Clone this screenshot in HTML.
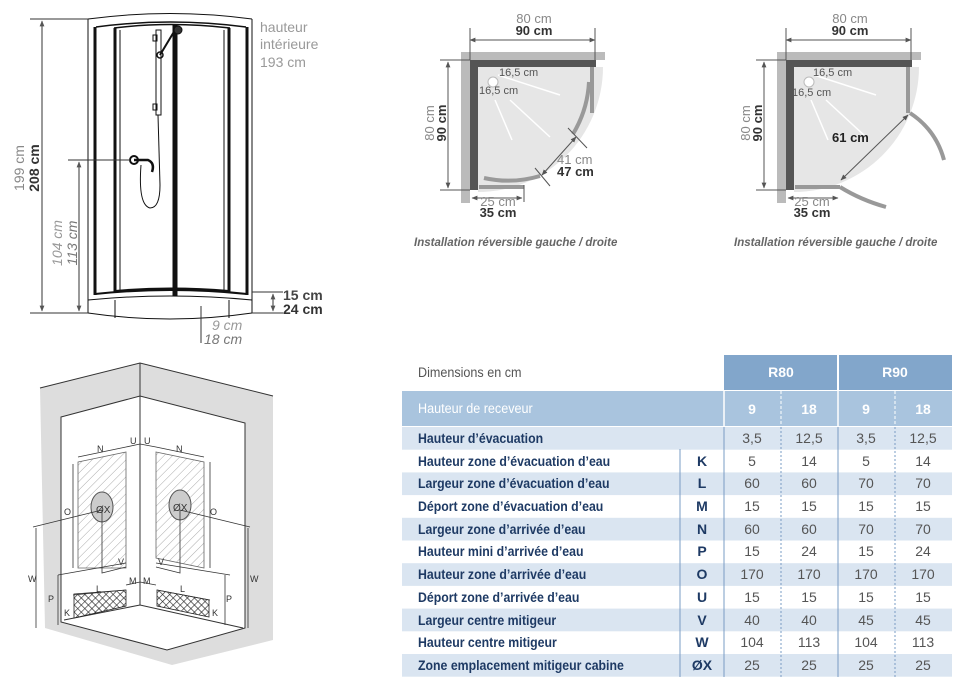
<!DOCTYPE html>
<html><head><meta charset="utf-8"><style>
html,body{margin:0;padding:0;background:#fff;}
svg{display:block;}
text{font-family:"Liberation Sans",sans-serif;}
</style></head><body>
<svg width="964" height="687" viewBox="0 0 964 687" xmlns="http://www.w3.org/2000/svg">
<defs>
<marker id="ar" viewBox="0 0 10 10" refX="9" refY="5" markerWidth="6" markerHeight="6" orient="auto-start-reverse"><path d="M0,1 L10,5 L0,9 z" fill="#555"/></marker>
<pattern id="hatch" width="6" height="6" patternUnits="userSpaceOnUse" patternTransform="rotate(45)"><line x1="0" y1="0" x2="0" y2="6" stroke="#aaa" stroke-width="1"/></pattern>
<pattern id="cross" width="5" height="5" patternUnits="userSpaceOnUse" patternTransform="rotate(45)"><rect width="5" height="5" fill="#fff"/><path d="M0,0 L0,5 M0,0 L5,0" stroke="#222" stroke-width="1.2"/></pattern>
</defs>

<!-- ===== Shower front view ===== -->
<g stroke="#111" fill="none">
  <path d="M88,19 Q170,8 252,19" stroke-width="1"/>
  <path d="M96,27 Q170,17 246,27" stroke-width="1.5"/>
  <path d="M114,28 Q170,21 230,28" stroke-width="1.5"/>
  <line x1="88" y1="19" x2="88" y2="313" stroke-width="1"/>
  <line x1="95" y1="27" x2="95" y2="295" stroke-width="3"/>
  <line x1="115" y1="28" x2="115" y2="292" stroke-width="3"/>
  <line x1="229" y1="28" x2="229" y2="292" stroke-width="3"/>
  <line x1="247" y1="27" x2="247" y2="295" stroke-width="3"/>
  <line x1="252" y1="19" x2="252" y2="313" stroke-width="1"/>
  <line x1="175" y1="24" x2="175" y2="296" stroke-width="5"/>
  <line x1="120" y1="30" x2="120" y2="290" stroke-width="1"/>
  <line x1="224" y1="30" x2="224" y2="290" stroke-width="1"/>
  <path d="M95,294 Q170,286 247,294" stroke-width="2"/>
  <path d="M115,291 Q170,286 229,291" stroke-width="2"/>
  <path d="M88,300 Q170,292 252,300" stroke-width="1"/>
  <path d="M88,313 Q170,325 252,313" stroke-width="1"/>
  <line x1="115" y1="300" x2="115" y2="318"/><line x1="229" y1="300" x2="229" y2="318"/>
  <rect x="156" y="30" width="5" height="85" stroke-width="1"/>
  <line x1="158" y1="115" x2="160" y2="185" stroke-width="1"/>
  <rect x="153" y="35" width="4" height="6" stroke-width="1"/>
  <rect x="153" y="104" width="4" height="6" stroke-width="1"/>
  <circle cx="160" cy="55" r="3" stroke-width="1.5"/>
  <line x1="160" y1="55" x2="175" y2="30" stroke-width="2"/>
  <circle cx="178" cy="30" r="4" fill="#333"/>
  <circle cx="134" cy="160" r="4" stroke-width="2"/>
  <path d="M134,160 L148,160 Q155,163 152,172" stroke-width="2.5"/>
  <path d="M141,165 Q138,205 150,208 Q160,208 160,185" stroke-width="1"/>
</g>
<g stroke="#333" stroke-width="1">
  <line x1="30" y1="19" x2="88" y2="19"/>
  <line x1="30" y1="313" x2="88" y2="313"/>
  <line x1="42" y1="21" x2="42" y2="311" marker-start="url(#ar)" marker-end="url(#ar)"/>
  <line x1="68" y1="160" x2="130" y2="160"/>
  <line x1="79" y1="162" x2="79" y2="311" marker-start="url(#ar)" marker-end="url(#ar)"/>
  <line x1="252" y1="292" x2="283" y2="292"/>
  <line x1="252" y1="313" x2="283" y2="313"/>
  <line x1="273" y1="294" x2="273" y2="311" marker-start="url(#ar)" marker-end="url(#ar)"/>
  <line x1="201" y1="306" x2="201" y2="343" />
</g>
<text transform="translate(24,168) rotate(-90)" text-anchor="middle" font-size="14" fill="#888">199 cm</text>
<text transform="translate(39,168) rotate(-90)" text-anchor="middle" font-size="14" font-weight="bold" fill="#333">208 cm</text>
<text transform="translate(62,243) rotate(-90)" text-anchor="middle" font-size="14" font-style="italic" fill="#999">104 cm</text>
<text transform="translate(77,243) rotate(-90)" text-anchor="middle" font-size="14" font-style="italic" fill="#777">113 cm</text>
<text x="260" y="32" font-size="14" fill="#999">hauteur</text>
<text x="260" y="49" font-size="14" fill="#999">intérieure</text>
<text x="260" y="67" font-size="14" fill="#999">193 cm</text>
<text x="283" y="300" font-size="14" font-weight="bold" fill="#444">15 cm</text>
<text x="283" y="314" font-size="14" font-weight="bold" fill="#333">24 cm</text>
<text x="212" y="330" font-size="14" font-style="italic" fill="#999">9 cm</text>
<text x="204" y="344" font-size="14" font-style="italic" fill="#777">18 cm</text>

<!-- ===== Plan 1 ===== -->
<g>
  <path d="M478,67 L603,67 A125,125 0 0 1 478,192 Z" fill="#e6e6e6"/>
  <rect x="461" y="52" width="144" height="8" fill="#bbb"/>
  <rect x="461" y="52" width="9" height="151" fill="#bbb"/>
  <rect x="470" y="60" width="126" height="7" fill="#555"/>
  <rect x="470" y="60" width="8" height="130" fill="#555"/>
  <rect x="590" y="67" width="4" height="46" fill="#999"/>
  <rect x="479" y="185" width="45" height="4" fill="#999"/>
  <path d="M589,82 A112,112 0 0 1 573,134" stroke="#999" stroke-width="4" fill="none"/>
  <path d="M540,176 A112,112 0 0 1 484,178" stroke="#999" stroke-width="4" fill="none"/>
  <g stroke="#fff" stroke-width="1.5">
    <line x1="498" y1="75" x2="560" y2="95"/><line x1="495" y1="100" x2="512" y2="140"/><line x1="510" y1="100" x2="550" y2="137"/>
  </g>
  <g stroke="#555" stroke-width="1">
    <line x1="470" y1="40" x2="595" y2="40" marker-start="url(#ar)" marker-end="url(#ar)"/>
    <line x1="470" y1="28" x2="470" y2="60"/><line x1="595" y1="28" x2="595" y2="60"/>
    <line x1="448" y1="62" x2="448" y2="188" marker-start="url(#ar)" marker-end="url(#ar)"/>
    <line x1="440" y1="60" x2="470" y2="60"/><line x1="440" y1="190" x2="470" y2="190"/>
    <line x1="472" y1="198" x2="522" y2="198" marker-start="url(#ar)" marker-end="url(#ar)"/>
    <line x1="524" y1="185" x2="524" y2="202"/>
    <line x1="542" y1="175" x2="576" y2="137" marker-start="url(#ar)" marker-end="url(#ar)"/>
    <line x1="535" y1="168" x2="550" y2="186"/><line x1="568" y1="128" x2="587" y2="148"/>
    <circle cx="493" cy="82" r="5" fill="#fff" stroke="#bbb"/>
  </g>
  <text x="534" y="23" text-anchor="middle" font-size="13" fill="#888">80 cm</text>
  <text x="534" y="35" text-anchor="middle" font-size="13" font-weight="bold" fill="#333">90 cm</text>
  <text transform="translate(434,123) rotate(-90)" text-anchor="middle" font-size="13" fill="#888">80 cm</text>
  <text transform="translate(446,123) rotate(-90)" text-anchor="middle" font-size="13" font-weight="bold" fill="#333">90 cm</text>
  <text x="499" y="76" font-size="11" fill="#555">16,5 cm</text>
  <text x="479" y="94" font-size="11" fill="#555">16,5 cm</text>
  <text x="557" y="164" font-size="13" fill="#888">41 cm</text>
  <text x="557" y="176" font-size="13" font-weight="bold" fill="#333">47 cm</text>
  <text x="498" y="206" text-anchor="middle" font-size="13" fill="#888">25 cm</text>
  <text x="498" y="217" text-anchor="middle" font-size="13" font-weight="bold" fill="#333">35 cm</text>
  <text transform="translate(414,246) scale(0.96,1)" font-size="12" font-weight="bold" font-style="italic" fill="#666">Installation réversible gauche / droite</text>
</g>

<!-- ===== Plan 2 ===== -->
<g transform="translate(316,0)">
  <path d="M478,67 L603,67 A125,125 0 0 1 478,192 Z" fill="#e6e6e6"/>
  <rect x="461" y="52" width="144" height="8" fill="#bbb"/>
  <rect x="461" y="52" width="9" height="151" fill="#bbb"/>
  <rect x="470" y="60" width="126" height="7" fill="#555"/>
  <rect x="470" y="60" width="8" height="130" fill="#555"/>
  <rect x="590" y="67" width="4" height="46" fill="#999"/>
  <rect x="479" y="185" width="45" height="4" fill="#999"/>
  <path d="M594,113 Q620,130 628,160" stroke="#999" stroke-width="4" fill="none"/>
  <path d="M524,187 Q545,200 570,207" stroke="#999" stroke-width="4" fill="none"/>
  <g stroke="#fff" stroke-width="1.5">
    <line x1="498" y1="75" x2="560" y2="95"/><line x1="495" y1="100" x2="512" y2="140"/><line x1="510" y1="100" x2="550" y2="137"/>
  </g>
  <g stroke="#555" stroke-width="1">
    <line x1="470" y1="40" x2="595" y2="40" marker-start="url(#ar)" marker-end="url(#ar)"/>
    <line x1="470" y1="28" x2="470" y2="60"/><line x1="595" y1="28" x2="595" y2="60"/>
    <line x1="448" y1="62" x2="448" y2="188" marker-start="url(#ar)" marker-end="url(#ar)"/>
    <line x1="440" y1="60" x2="470" y2="60"/><line x1="440" y1="190" x2="470" y2="190"/>
    <line x1="472" y1="198" x2="522" y2="198" marker-start="url(#ar)" marker-end="url(#ar)"/>
    <line x1="525" y1="180" x2="592" y2="115" marker-start="url(#ar)" marker-end="url(#ar)"/>
    <circle cx="493" cy="82" r="5" fill="#fff" stroke="#bbb"/>
  </g>
  <text x="534" y="23" text-anchor="middle" font-size="13" fill="#888">80 cm</text>
  <text x="534" y="35" text-anchor="middle" font-size="13" font-weight="bold" fill="#333">90 cm</text>
  <text transform="translate(434,123) rotate(-90)" text-anchor="middle" font-size="13" fill="#888">80 cm</text>
  <text transform="translate(446,123) rotate(-90)" text-anchor="middle" font-size="13" font-weight="bold" fill="#333">90 cm</text>
  <text x="497" y="76" font-size="11" fill="#555">16,5 cm</text>
  <text x="476" y="96" font-size="11" fill="#555">16,5 cm</text>
  <text x="516" y="142" font-size="13" font-weight="bold" fill="#222">61 cm</text>
  <text x="496" y="206" text-anchor="middle" font-size="13" fill="#888">25 cm</text>
  <text x="496" y="217" text-anchor="middle" font-size="13" font-weight="bold" fill="#333">35 cm</text>
  <text transform="translate(418,246) scale(0.96,1)" font-size="12" font-weight="bold" font-style="italic" fill="#666">Installation réversible gauche / droite</text>
</g>

<!-- ===== Isometric ===== -->
<g>
  <polygon points="40,388 140,363 273,396 273,640 172,665 45,628" fill="#ddd"/>
  <polygon points="61,417 140,396 245,423 245,628 167,650 61,622" fill="#fff" stroke="#333" stroke-width="1"/>
  <polyline points="40,388 140,363 273,396" fill="none" stroke="#333" stroke-width="1"/>
  <line x1="140" y1="363" x2="140" y2="605" stroke="#333"/>
  <polyline points="64,620 140,605 243,628" fill="none" stroke="#333"/>
  <polygon points="78,462 126,452 126,568 78,568" fill="url(#hatch)" stroke="#666" stroke-width="0.8"/>
  <polygon points="156,452 204,462 204,568 156,558" fill="url(#hatch)" stroke="#666" stroke-width="0.8"/>
  <ellipse cx="102" cy="507" rx="11" ry="15" fill="#ccc" stroke="#555"/>
  <ellipse cx="180" cy="505" rx="11" ry="15" fill="#ccc" stroke="#555"/>
  <polygon points="74,594 126,590 126,606 74,618" fill="url(#cross)" stroke="#222" stroke-width="0.8"/>
  <polygon points="157,590 209,600 209,617 157,606" fill="url(#cross)" stroke="#222" stroke-width="0.8"/>
  <g stroke="#333" stroke-width="0.8" fill="none">
    <line x1="78" y1="457" x2="126" y2="447"/><line x1="156" y1="447" x2="204" y2="457"/>
    <line x1="73" y1="464" x2="73" y2="568"/><line x1="210" y1="462" x2="210" y2="568"/>
    <line x1="33" y1="527" x2="102" y2="510"/><line x1="180" y1="510" x2="250" y2="527"/>
    <line x1="36" y1="528" x2="36" y2="628"/><line x1="248" y1="528" x2="248" y2="628"/>
    <line x1="58" y1="575" x2="126" y2="563"/><line x1="156" y1="563" x2="230" y2="575"/>
    <line x1="58" y1="575" x2="58" y2="625"/><line x1="225" y1="575" x2="225" y2="625"/>
    <polyline points="102,510 102,573 126,567"/><polyline points="180,510 180,573 156,567"/>
    <line x1="73" y1="595" x2="126" y2="590"/><line x1="157" y1="590" x2="210" y2="600"/>
    <line x1="126" y1="447" x2="140" y2="444"/><line x1="140" y1="444" x2="156" y2="447"/>
    <line x1="126" y1="585" x2="140" y2="582"/><line x1="140" y1="582" x2="156" y2="585"/>
  </g>
  <g font-size="9" fill="#333">
    <text x="97" y="452">N</text><text x="176" y="452">N</text>
    <text x="130" y="444">U</text><text x="144" y="444">U</text>
    <text x="64" y="515">O</text><text x="210" y="515">O</text>
    <text x="96" y="513" font-size="10">ØX</text><text x="173" y="511" font-size="10">ØX</text>
    <text x="118" y="565">V</text><text x="158" y="565">V</text>
    <text x="28" y="582">W</text><text x="250" y="582">W</text>
    <text x="48" y="602">P</text><text x="226" y="602">P</text>
    <text x="96" y="592">L</text><text x="180" y="592">L</text>
    <text x="129" y="584">M</text><text x="143" y="584">M</text>
    <text x="64" y="616">K</text><text x="212" y="616">K</text>
  </g>
</g>

<!-- ===== Table ===== -->
<g>
  <rect x="724" y="355" width="113" height="35" fill="#82a6cb"/>
  <rect x="839" y="355" width="113" height="35" fill="#82a6cb"/>
  <rect x="402" y="391" width="550" height="35" fill="#a9c4de"/>
  <line x1="724" y1="391" x2="724" y2="426" stroke="#fff" stroke-width="1.5"/>
  <line x1="838" y1="391" x2="838" y2="426" stroke="#fff" stroke-width="1.5"/>
  <line x1="781" y1="391" x2="781" y2="426" stroke="#fff" stroke-dasharray="3,2"/>
  <line x1="895" y1="391" x2="895" y2="426" stroke="#fff" stroke-dasharray="3,2"/>
  <text transform="translate(418,377) scale(0.9,1)" font-size="14" fill="#555">Dimensions en cm</text>
  <text x="781" y="377" font-size="14" font-weight="bold" fill="#fff" text-anchor="middle">R80</text>
  <text x="895" y="377" font-size="14" font-weight="bold" fill="#fff" text-anchor="middle">R90</text>
  <text transform="translate(418,413) scale(0.9,1)" font-size="14" fill="#fff">Hauteur de receveur</text>
  <g font-size="14" font-weight="bold" fill="#fff" text-anchor="middle">
    <text x="752" y="414">9</text><text x="809" y="414">18</text><text x="866" y="414">9</text><text x="923" y="414">18</text>
  </g>
  <rect x="402" y="427" width="550" height="22.7" fill="#dae5f1"/>
  <rect x="402" y="472.4" width="550" height="22.7" fill="#dae5f1"/>
  <rect x="402" y="517.8" width="550" height="22.7" fill="#dae5f1"/>
  <rect x="402" y="563.2" width="550" height="22.7" fill="#dae5f1"/>
  <rect x="402" y="608.6" width="550" height="22.7" fill="#dae5f1"/>
  <rect x="402" y="654" width="550" height="22.7" fill="#dae5f1"/>
  <line x1="680" y1="449" x2="680" y2="677" stroke="#7a9cc4" stroke-width="1"/>
  <line x1="724" y1="427" x2="724" y2="677" stroke="#7a9cc4" stroke-width="1"/>
  <line x1="838" y1="427" x2="838" y2="677" stroke="#7a9cc4" stroke-width="1"/>
  <line x1="781" y1="427" x2="781" y2="677" stroke="#7a9cc4" stroke-dasharray="2,2"/>
  <line x1="895" y1="427" x2="895" y2="677" stroke="#7a9cc4" stroke-dasharray="2,2"/>
  <g font-size="14" font-weight="bold" fill="#1e3a64" transform="translate(418,0) scale(0.88,1)">
    <text x="0" y="443">Hauteur d’évacuation</text>
    <text x="0" y="466">Hauteur zone d’évacuation d’eau</text>
    <text x="0" y="488">Largeur zone d’évacuation d’eau</text>
    <text x="0" y="511">Déport zone d’évacuation d’eau</text>
    <text x="0" y="534">Largeur zone d’arrivée d’eau</text>
    <text x="0" y="556">Hauteur mini d’arrivée d’eau</text>
    <text x="0" y="579">Hauteur zone d’arrivée d’eau</text>
    <text x="0" y="602">Déport zone d’arrivée d’eau</text>
    <text x="0" y="625">Largeur centre mitigeur</text>
    <text x="0" y="647">Hauteur centre mitigeur</text>
    <text x="0" y="670">Zone emplacement mitigeur cabine</text>
  </g>
  <g font-size="14" font-weight="bold" fill="#1e3a64" text-anchor="middle">
    <text x="702" y="466">K</text><text x="702" y="488">L</text><text x="702" y="511">M</text><text x="702" y="534">N</text>
    <text x="702" y="556">P</text><text x="702" y="579">O</text><text x="702" y="602">U</text><text x="702" y="625">V</text>
    <text x="702" y="647">W</text><text x="702" y="670">ØX</text>
  </g>
  <g font-size="14" fill="#555" text-anchor="middle">
    <text x="752" y="443">3,5</text><text x="809" y="443">12,5</text><text x="866" y="443">3,5</text><text x="923" y="443">12,5</text>
    <text x="752" y="466">5</text><text x="809" y="466">14</text><text x="866" y="466">5</text><text x="923" y="466">14</text>
    <text x="752" y="488">60</text><text x="809" y="488">60</text><text x="866" y="488">70</text><text x="923" y="488">70</text>
    <text x="752" y="511">15</text><text x="809" y="511">15</text><text x="866" y="511">15</text><text x="923" y="511">15</text>
    <text x="752" y="534">60</text><text x="809" y="534">60</text><text x="866" y="534">70</text><text x="923" y="534">70</text>
    <text x="752" y="556">15</text><text x="809" y="556">24</text><text x="866" y="556">15</text><text x="923" y="556">24</text>
    <text x="752" y="579">170</text><text x="809" y="579">170</text><text x="866" y="579">170</text><text x="923" y="579">170</text>
    <text x="752" y="602">15</text><text x="809" y="602">15</text><text x="866" y="602">15</text><text x="923" y="602">15</text>
    <text x="752" y="625">40</text><text x="809" y="625">40</text><text x="866" y="625">45</text><text x="923" y="625">45</text>
    <text x="752" y="647">104</text><text x="809" y="647">113</text><text x="866" y="647">104</text><text x="923" y="647">113</text>
    <text x="752" y="670">25</text><text x="809" y="670">25</text><text x="866" y="670">25</text><text x="923" y="670">25</text>
  </g>
</g>
</svg>
</body></html>
